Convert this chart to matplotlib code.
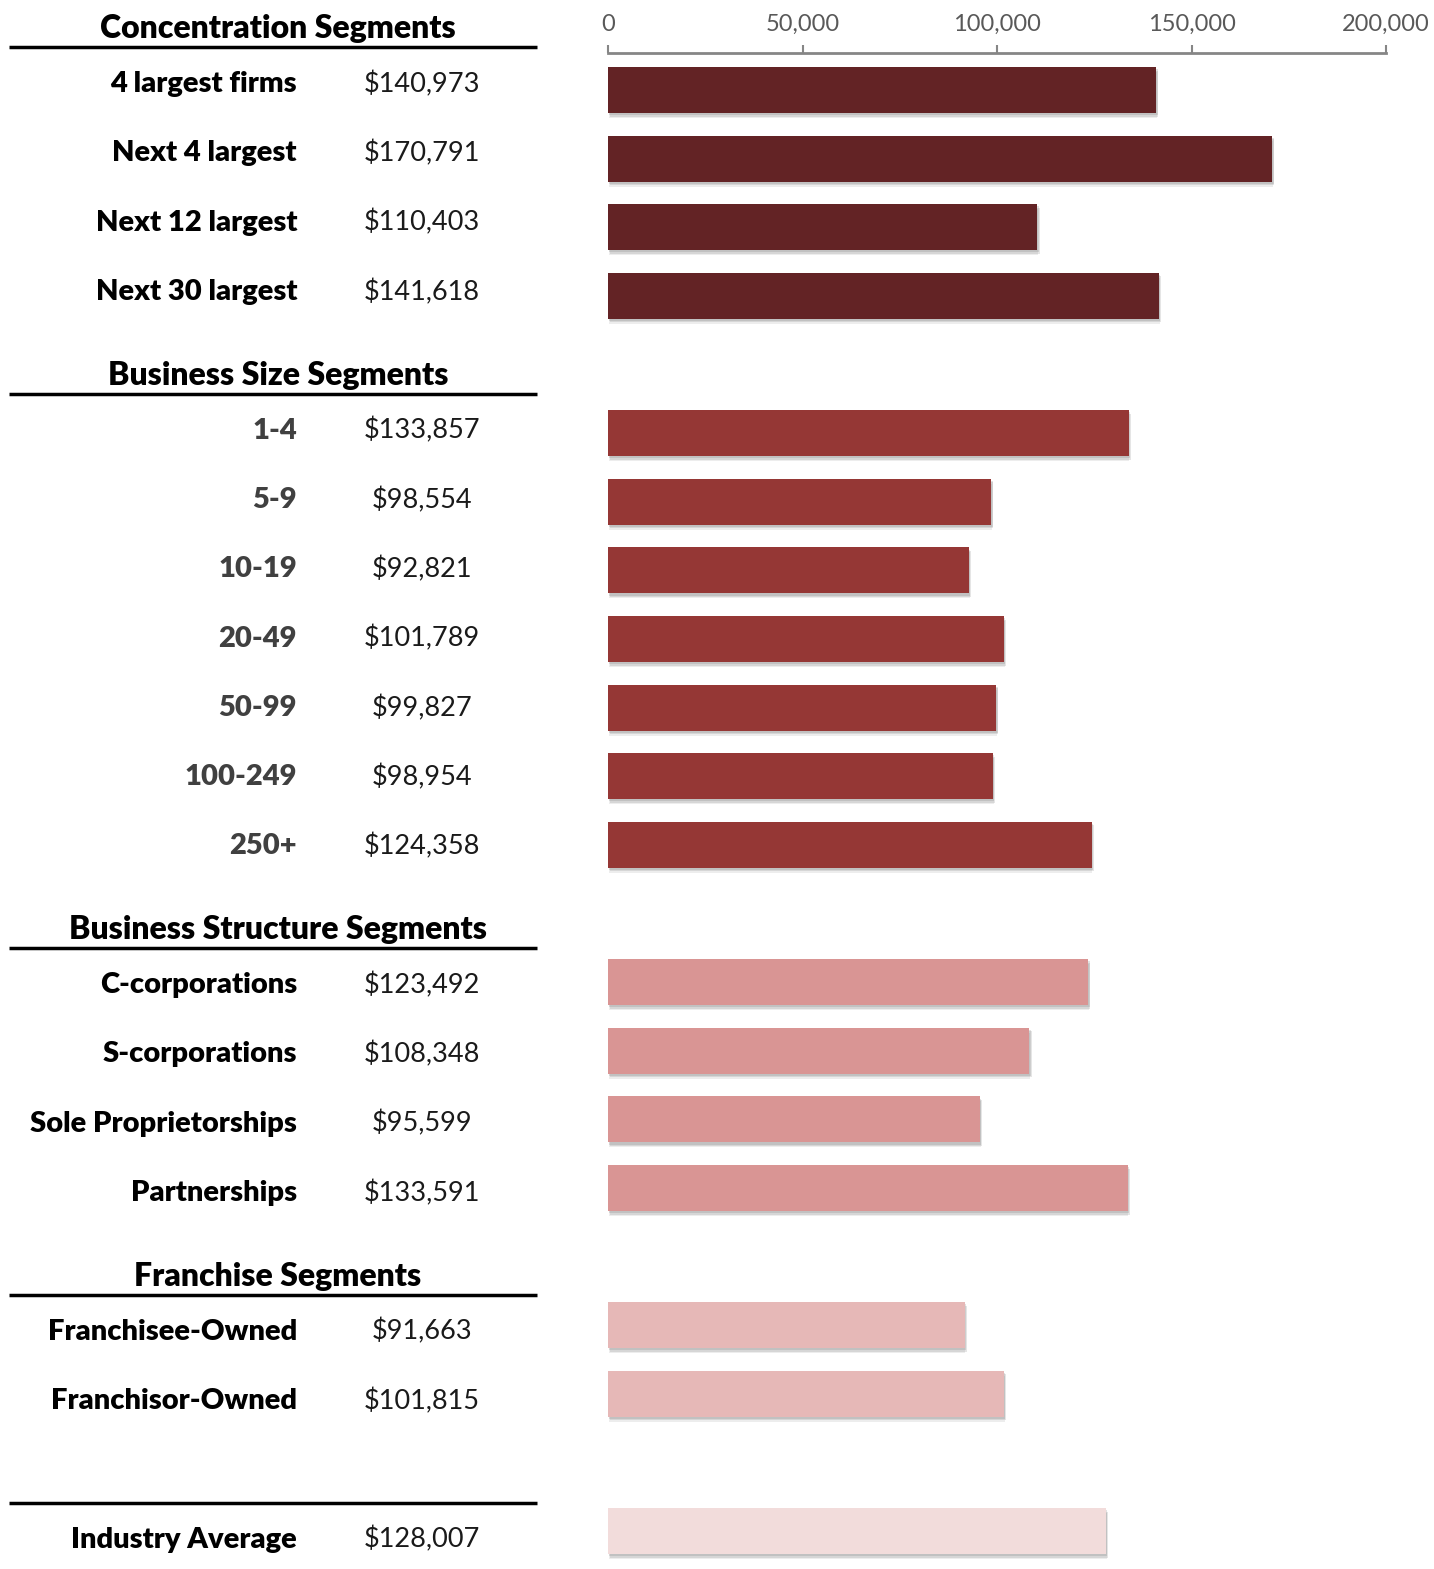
import matplotlib.pyplot as plt
import matplotlib.patheffects as pe
from matplotlib.transforms import blended_transform_factory
from matplotlib.ticker import FuncFormatter

plt.rcParams['font.family'] = ['Lato', 'DejaVu Sans']

# segment groups: header, labels, values
conc_labels = ['4 largest firms', 'Next 4 largest', 'Next 12 largest', 'Next 30 largest']
conc_values = [140973, 170791, 110403, 141618]

size_labels = ['1-4', '5-9', '10-19', '20-49', '50-99', '100-249', '250+']
size_values = [133857, 98554, 92821, 101789, 99827, 98954, 124358]

struct_labels = ['C-corporations', 'S-corporations', 'Sole Proprietorships', 'Partnerships']
struct_values = [123492, 108348, 95599, 133591]

fran_labels = ['Franchisee-Owned', 'Franchisor-Owned']
fran_values = [91663, 101815]

avg_labels = ['Industry Average']
avg_values = [128007]

groups = [
    ('Concentration Segments', conc_labels, conc_values, '#632325', 'black'),
    ('Business Size Segments', size_labels, size_values, '#953735', '#404040'),
    ('Business Structure Segments', struct_labels, struct_values, '#D99594', 'black'),
    ('Franchise Segments', fran_labels, fran_values, '#E6B8B7', 'black'),
    ('', avg_labels, avg_values, '#F2DCDB', 'black'),
]

W, H = 1434, 1569
fig = plt.figure(figsize=(W / 100, H / 100), dpi=100)
ax = fig.add_axes([608 / W, 0, (1386 - 608) / W, (H - 53) / H])
ax.set_xlim(0, 200000)
ax.set_ylim(21.55, -0.54)


def text_row(t):
    # the table column runs on a slightly taller row pitch than the bars
    return (84 + 69.3 * t - 90) / 68.62


trans = blended_transform_factory(fig.transFigure, ax.transData)
shadow = [pe.SimplePatchShadow(offset=(0.5, -3.5), shadow_rgbFace='#707070', alpha=0.12),
          pe.SimplePatchShadow(offset=(1.5, -2.5), shadow_rgbFace='#707070', alpha=0.18),
          pe.SimplePatchShadow(offset=(1.0, -1.5), shadow_rgbFace='#707070', alpha=0.2),
          pe.Normal()]

row = 0
for title, labels, values, color, lab_color in groups:
    # header and rule above each group
    ax.plot([9 / W, 537 / W], [text_row(row - 0.53)] * 2, transform=trans,
            color='black', lw=2.5, clip_on=False, solid_capstyle='butt')
    if title:
        ax.text(278 / W, text_row(row - 0.8), title, transform=trans, ha='center',
                va='center', fontsize=23, fontweight='heavy', color='black')
    for lab, val in zip(labels, values):
        ax.barh(row, val, height=0.67, color=color, path_effects=shadow, zorder=2)
        ax.text(297 / W, text_row(row), lab, transform=trans, ha='right', va='center',
                fontsize=21, fontweight='heavy', color=lab_color)
        ax.text(422 / W, text_row(row), f'${val:,}', transform=trans, ha='center',
                va='center', fontsize=19.5, color='#1a1a1a')
        row += 1
    row += 1

ax.xaxis.tick_top()
ax.set_xticks([0, 50000, 100000, 150000, 200000])
ax.xaxis.set_major_formatter(FuncFormatter(lambda v, p: f'{int(v):,}'))
ax.tick_params(axis='x', direction='out', length=6, width=1.5, color='#868686',
               labelsize=17, labelcolor='#595959', pad=7)
ax.set_yticks([])
for side in ['bottom', 'left', 'right']:
    ax.spines[side].set_visible(False)
ax.spines['top'].set_color('#868686')
ax.spines['top'].set_linewidth(2)
ax.patch.set_visible(False)

fig.savefig('out.png', dpi=100)
